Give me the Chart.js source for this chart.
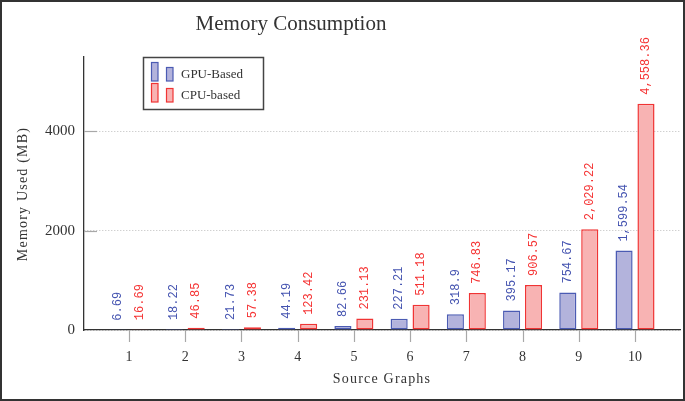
<!DOCTYPE html>
<html>
<head>
<meta charset="utf-8">
<style>
  html, body { margin: 0; padding: 0; background: #fff; }
  canvas { display: block; }
</style>
<script src="https://cdn.jsdelivr.net/npm/chart.js@4.4.1/dist/chart.umd.min.js"></script>
</head>
<body>
<canvas id="c" width="685" height="401"></canvas>
<script>
const categories = [1, 2, 3, 4, 5, 6, 7, 8, 9, 10];
const gpuValues = [6.69, 18.22, 21.73, 44.19, 82.66, 227.21, 318.9, 395.17, 754.67, 1599.54];
const cpuValues = [16.69, 46.85, 57.38, 123.42, 231.13, 511.18, 746.83, 906.57, 2029.22, 4558.36];
const yTicks = [0, 2000, 4000];
const seriesNames = ['GPU-Based', 'CPU-based'];
const titleText = 'Memory Consumption';
const xTitle = 'Source Graphs';
const yTitle = 'Memory Used (MB)';

const GPU_FILL = '#b3b3dc', GPU_LINE = '#4b5bb3', GPU_TEXT = '#4453b0';
const CPU_FILL = '#f8b3b3', CPU_LINE = '#f03434', CPU_TEXT = '#f53333';
const SERIF = '"Liberation Serif", "DejaVu Serif", serif';
const MONO = '"Liberation Mono", "DejaVu Sans Mono", monospace';

const fmt = v => v.toLocaleString('en-US', { maximumFractionDigits: 2 });

const decorPlugin = {
  id: 'decor',
  beforeDatasetsDraw(chart) {
    const ctx = chart.ctx;
    const area = chart.chartArea;
    const ys = chart.scales.y;
    const xs = chart.scales.x;
    ctx.save();
    ctx.strokeStyle = '#a8a8a8';
    ctx.lineWidth = 1.2;
    // inward y ticks
    yTicks.forEach(t => {
      if (t === 0) return;
      const py = Math.round(ys.getPixelForValue(t)) + 0.5;
      ctx.beginPath();
      ctx.moveTo(area.left, py);
      ctx.lineTo(area.left + 13, py);
      ctx.stroke();
    });
    // outward x ticks
    categories.forEach(c => {
      const px = Math.round(xs.getPixelForValue(c)) + 0.5;
      ctx.beginPath();
      ctx.moveTo(px, area.bottom);
      ctx.lineTo(px, area.bottom + 12);
      ctx.stroke();
    });
    ctx.restore();
  },
  afterDatasetsDraw(chart) {
    const ctx = chart.ctx;
    // value labels
    const colors = [GPU_TEXT, CPU_TEXT];
    chart.data.datasets.forEach((ds, di) => {
      const meta = chart.getDatasetMeta(di);
      meta.data.forEach((bar, i) => {
        const v = ds.data[i].y;
        ctx.save();
        ctx.translate(bar.x, bar.y - 9);
        ctx.rotate(-Math.PI / 2);
        ctx.font = '12px ' + MONO;
        ctx.fillStyle = colors[di];
        ctx.textAlign = 'left';
        ctx.textBaseline = 'middle';
        ctx.fillText(fmt(v), 0, 0);
        ctx.restore();
      });
    });
  },
  afterDraw(chart) {
    const ctx = chart.ctx;
    ctx.save();
    // title
    ctx.fillStyle = '#333';
    ctx.font = '21px ' + SERIF;
    ctx.textAlign = 'center';
    ctx.textBaseline = 'alphabetic';
    ctx.fillText(titleText, 291, 30);

    // x title
    ctx.font = '14px ' + SERIF;
    ctx.letterSpacing = '1.2px';
    ctx.textBaseline = 'middle';
    ctx.fillText(xTitle, 382, 379);
    // y title
    ctx.save();
    ctx.translate(23, 194);
    ctx.rotate(-Math.PI / 2);
    ctx.fillText(yTitle, 0, 0);
    ctx.restore();
    ctx.letterSpacing = '0px';

    // legend
    const lx = 143, ly = 57, lw = 120, lh = 52;
    ctx.fillStyle = '#fff';
    ctx.fillRect(lx, ly, lw, lh);
    ctx.strokeStyle = '#444';
    ctx.lineWidth = 1.5;
    ctx.strokeRect(lx + 0.5, ly + 0.5, lw, lh);
    const rows = [
      { fill: GPU_FILL, line: GPU_LINE, y: 62 },
      { fill: CPU_FILL, line: CPU_LINE, y: 83 }
    ];
    rows.forEach((r, i) => {
      ctx.fillStyle = r.fill;
      ctx.strokeStyle = r.line;
      ctx.lineWidth = 1.2;
      ctx.fillRect(151, r.y, 7, 19);
      ctx.strokeRect(151.5, r.y + 0.5, 6.5, 18.5);
      ctx.fillRect(166, r.y + 5, 7, 14);
      ctx.strokeRect(166.5, r.y + 5.5, 6.5, 13.5);
      ctx.fillStyle = '#333';
      ctx.font = '13px ' + SERIF;
      ctx.textAlign = 'left';
      ctx.textBaseline = 'middle';
      ctx.fillText(seriesNames[i], 181, r.y + 13);
    });

    // outer frame
    ctx.strokeStyle = '#333';
    ctx.lineWidth = 2;
    ctx.strokeRect(1, 1, 683, 399);
    ctx.restore();
  }
};

const barOpts = {
  borderWidth: 1.5,
  borderSkipped: false,
  categoryPercentage: 0.78,
  barPercentage: 0.78
};

const chart = new Chart(document.getElementById('c'), {
  type: 'bar',
  data: {
    datasets: [
      Object.assign({
        label: seriesNames[0],
        data: categories.map((c, i) => ({ x: c, y: gpuValues[i] })),
        backgroundColor: GPU_FILL,
        borderColor: GPU_LINE
      }, barOpts),
      Object.assign({
        label: seriesNames[1],
        data: categories.map((c, i) => ({ x: c, y: cpuValues[i] })),
        backgroundColor: CPU_FILL,
        borderColor: CPU_LINE
      }, barOpts)
    ]
  },
  options: {
    responsive: false,
    animation: false,
    devicePixelRatio: 1,
    layout: { padding: { left: 0, top: 57, right: 5, bottom: 0 } },
    plugins: {
      legend: { display: false },
      title: { display: false },
      tooltip: { enabled: false }
    },
    scales: {
      x: {
        type: 'linear',
        min: 0.2,
        max: 10.8,
        offset: false,
        afterBuildTicks: s => { s.ticks = categories.map(v => ({ value: v })); },
        afterFit: s => { s.height = 71; },
        grid: { display: false, offset: false },
        border: { display: true, color: '#333', width: 1.3 },
        ticks: { color: '#333', font: { family: SERIF, size: 14 }, padding: 11, maxRotation: 0, autoSkip: false }
      },
      y: {
        min: 0,
        max: 5500,
        afterBuildTicks: s => { s.ticks = yTicks.map(v => ({ value: v })); },
        afterFit: s => { s.width = 84; },
        grid: { drawTicks: false, color: '#bdbdbd', lineWidth: 1 },
        border: { display: true, color: '#333', width: 1.3, dash: [1, 2] },
        ticks: { color: '#333', font: { family: SERIF, size: 15 }, padding: 9, callback: v => String(v) }
      }
    }
  },
  plugins: [decorPlugin]
});
</script>
</body>
</html>
